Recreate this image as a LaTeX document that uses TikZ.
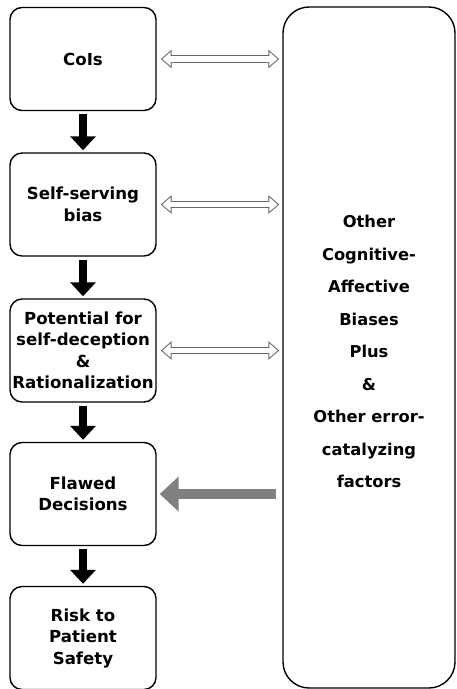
\documentclass[tikz,border=0pt]{standalone}
\usepackage{fontspec}
\setmainfont{DejaVu Sans}
\usetikzlibrary{arrows.meta}

\tikzset{
  stage/.style={shape=rectangle, draw=black, line width=1.4pt, rounded corners=12pt,
    minimum width=146pt, minimum height=103pt, inner sep=1pt, align=center,
    font=\fontsize{16.6}{21.5}\selectfont\bfseries},
  factorbox/.style={shape=rectangle, draw=black, line width=1.4pt, rounded corners=26pt,
    minimum width=172pt, minimum height=681pt, align=center,
    font=\fontsize{16.3}{32.5}\selectfont\bfseries},
  leadsto/.style={line width=8pt, -{Triangle[width=25pt,length=14pt]},
    shorten <=3pt, shorten >=2pt},
  % outlined two-headed arrow: grey body first, white body on top
  twoway/.style={draw=white, line width=5.4pt,
    {Triangle[width=13.8pt,length=8.4pt]}-{Triangle[width=13.8pt,length=8.4pt]},
    shorten <=5.6pt, shorten >=4.6pt,
    preaction={draw=black!60, line width=7.4pt,
      {Triangle[width=18pt,length=11pt]}-{Triangle[width=18pt,length=11pt]},
      shorten <=4pt, shorten >=3pt}},
  pushback/.style={line width=10pt, draw=black!50, -{Triangle[width=34pt,length=19pt]},
    shorten <=6pt, shorten >=3pt}
}

\begin{document}
\begin{tikzpicture}[x=1pt, y=-1pt]

    \useasboundingbox (0,0) rectangle (457,689);

    \node[stage] (cois) at (83,59) {CoIs};
    \node[stage] (bias) at (83,204.5) {Self-serving\\bias};
    \node[stage] (decep) at (83,350.5) {Potential for\\self-deception\\\&\\Rationalization};
    \node[stage] (flawed) at (83,494) {Flawed\\Decisions};
    \node[stage] (risk) at (83,638) {Risk to\\Patient\\Safety};

    % strut pushes the text block a little down, as in the original
    \node[factorbox] (other) at (369,347.5) {\rule{0pt}{21pt}Other\\Cognitive-\\Affective\\Biases\\Plus\\\&\\Other error-\\catalyzing\\factors};

    \draw[leadsto] (cois) -- (bias);
    \draw[leadsto] (bias) -- (decep);
    \draw[leadsto] (decep) -- (flawed);
    \draw[leadsto] (flawed) -- (risk);

    \draw[twoway] (cois.east) -- (cois.east -| other.west);
    \draw[twoway] (bias.east) -- (bias.east -| other.west);
    \draw[twoway] (decep.east) -- (decep.east -| other.west);

    \draw[pushback] (flawed.east -| other.west) -- (flawed.east);

\end{tikzpicture}
\end{document}
